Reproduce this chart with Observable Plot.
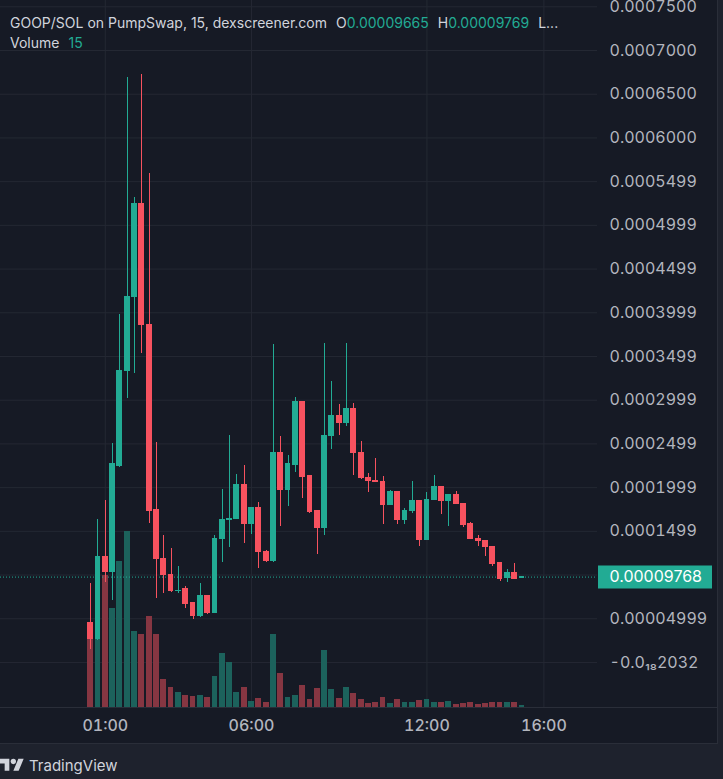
<!DOCTYPE html>
<html>
<head>
<meta charset="utf-8">
<script src="https://cdn.jsdelivr.net/npm/d3@7"></script>
<script src="https://cdn.jsdelivr.net/npm/@observablehq/plot@0.6"></script>
<style>
html,body{margin:0;padding:0;background:#1e222d;}
#wrap{position:relative;width:723px;height:779px;background:#1e222d;overflow:hidden;font-family:Inter,"Noto Sans",sans-serif;}
#chart{position:absolute;left:0;top:0;width:717px;height:743px;background:#161a25;}
#chart svg{position:absolute;left:0;top:0;}
.line{position:absolute;background:#2a2e39;}
#legend{position:absolute;left:10px;top:13px;color:#d1d4dc;font-size:14px;line-height:20px;white-space:nowrap;}
#legend .v{color:#22ab94;}
#legend .g{margin-left:9px;}
#brand{position:absolute;left:0;top:756px;height:18px;display:flex;align-items:center;color:#d1d4dc;font-size:15px;}
#brand svg{margin-right:5px;}
</style>
</head>
<body>
<div id="wrap">
  <div id="chart"></div>
  <div class="line" style="left:0;top:707px;width:717px;height:1px;"></div>
  <div class="line" style="left:717px;top:0;width:1px;height:744px;"></div>
  <div class="line" style="left:0;top:743px;width:718px;height:1px;"></div>
  <div id="legend"></div>
  <div id="brand">
    <svg width="24" height="19" viewBox="0 0 36 28"><path fill="#d1d4dc" d="M14 22H7V11H0V4h14v18zM28 22h-8l7.5-18h8L28 22z"/><circle fill="#d1d4dc" cx="20" cy="8" r="4"/></svg>
    <span>TradingView</span>
  </div>
</div>
<script>
// ---- data (15-minute candles, GOOP/SOL) ----
const startTime = "2025-01-01T00:30:00Z";
const intervalMinutes = 15;
const opens = [44.61e-6, 26.31e-6, 120.10e-6, 102.94e-6, 224.2e-6, 332.84e-6, 417.48e-6, 524.99e-6, 385.45e-6, 173.85e-6,
  117.81e-6, 99.51e-6, 81.8e-6, 83.50e-6, 67.48e-6, 52.61e-6, 75.49e-6, 56.04e-6, 140.68e-6, 163.0e-6,
  163.56e-6, 202.45e-6, 157.84e-6, 176.14e-6, 125.81e-6, 115.52e-6, 239.05e-6, 196.73e-6, 225.32e-6, 297.38e-6,
  212.74e-6, 172.71e-6, 153.27e-6, 258.49e-6, 281.37e-6, 273.36e-6, 289.37e-6, 239.05e-6, 210.45e-6, 207.6e-6,
  207.0e-6, 179.57e-6, 194.44e-6, 162.42e-6, 172.71e-6, 184.15e-6, 139.54e-6, 185.29e-6, 200.16e-6, 184.15e-6,
  191.01e-6, 180.72e-6, 157.84e-6, 140.68e-6, 138.40e-6, 131.53e-6, 113.23e-6, 96.08e-6, 101.80e-6, 96.65e-6];
const highs = [90.36e-6, 163.56e-6, 185.29e-6, 250.49e-6, 398.03e-6, 669.11e-6, 531.85e-6, 672.54e-6, 559.30e-6, 251.63e-6,
  145.26e-6, 130.39e-6, 109.80e-6, 86.93e-6, 67.5e-6, 90.36e-6, 76.63e-6, 145.26e-6, 197.87e-6, 259.64e-6,
  215.03e-6, 225.32e-6, 176.5e-6, 183.00e-6, 128.10e-6, 363.72e-6, 258.49e-6, 236.76e-6, 303.10e-6, 298.52e-6,
  212.74e-6, 172.71e-6, 364.86e-6, 321.40e-6, 295.09e-6, 364.86e-6, 296.24e-6, 252.77e-6, 216.17e-6, 233.33e-6,
  212.74e-6, 196.73e-6, 194.9e-6, 176.14e-6, 207.02e-6, 184.6e-6, 194.44e-6, 213.88e-6, 200.5e-6, 191.3e-6,
  195.58e-6, 181.0e-6, 160.13e-6, 145.26e-6, 138.7e-6, 131.8e-6, 113.5e-6, 106.37e-6, 113.23e-6, 97.69e-6];
const lows = [14.87e-6, 25.16e-6, 91.50e-6, 70.91e-6, 223.04e-6, 301.96e-6, 330.55e-6, 353.42e-6, 158.98e-6, 73.20e-6,
  78.92e-6, 80.06e-6, 78.92e-6, 61.76e-6, 49.18e-6, 52.0e-6, 54.90e-6, 55.5e-6, 114.38e-6, 131.53e-6,
  163.0e-6, 136.11e-6, 146.40e-6, 107.51e-6, 114.38e-6, 114.38e-6, 155.55e-6, 178.43e-6, 217.32e-6, 187.58e-6,
  170.42e-6, 123.53e-6, 145.26e-6, 243.62e-6, 259.64e-6, 269.93e-6, 213.88e-6, 209.31e-6, 194.44e-6, 206.9e-6,
  157.84e-6, 179.0e-6, 157.84e-6, 157.84e-6, 170.42e-6, 132.68e-6, 139.0e-6, 185.0e-6, 169.28e-6, 155.55e-6,
  180.5e-6, 154.41e-6, 140.3e-6, 132.68e-6, 121.24e-6, 109.80e-6, 92.65e-6, 91.50e-6, 94.6e-6, 96.65e-6];
const closes = [26.31e-6, 120.10e-6, 102.94e-6, 226.47e-6, 332.84e-6, 417.48e-6, 524.99e-6, 385.45e-6, 172.71e-6, 117.81e-6,
  99.51e-6, 81.21e-6, 82.3e-6, 66.34e-6, 52.61e-6, 75.49e-6, 56.04e-6, 140.68e-6, 162.42e-6, 163.6e-6,
  202.45e-6, 157.84e-6, 176.14e-6, 125.81e-6, 115.52e-6, 239.05e-6, 196.73e-6, 226.47e-6, 297.38e-6, 211.60e-6,
  171.57e-6, 153.27e-6, 258.49e-6, 281.37e-6, 273.36e-6, 289.37e-6, 239.05e-6, 210.45e-6, 207.02e-6, 207.0e-6,
  179.57e-6, 194.44e-6, 162.42e-6, 172.71e-6, 184.15e-6, 139.54e-6, 185.29e-6, 200.16e-6, 184.15e-6, 191.01e-6,
  180.72e-6, 156.70e-6, 140.68e-6, 138.40e-6, 131.53e-6, 112.09e-6, 94.93e-6, 101.80e-6, 94.93e-6, 97.68e-6];
const volumes = [738, 963, 1188, 891, 1314, 1584, 684, 657, 819, 657,
  252, 180, 135, 108, 99, 108, 90, 279, 486, 405,
  135, 180, 54, 81, 45, 657, 306, 90, 108, 198,
  72, 171, 513, 162, 81, 180, 126, 72, 36, 45,
  90, 36, 72, 45, 45, 63, 72, 45, 45, 54,
  27, 36, 45, 27, 36, 45, 45, 45, 45, 15];

// axis ticks and labels
const xTickTimes = ["2025-01-01T01:00:00Z", "2025-01-01T06:00:00Z", "2025-01-01T12:00:00Z", "2025-01-01T16:00:00Z"];
const yTicks = [0, 50e-6, 100e-6, 150e-6, 200e-6, 250e-6, 300e-6, 350e-6, 400e-6, 450e-6, 500e-6, 550e-6, 600e-6, 650e-6, 700e-6, 750e-6];
const yTickLabels = ["-0.0\u2081\u20882032", "0.00004999", "", "0.0001499", "0.0001999", "0.0002499", "0.0002999", "0.0003499",
  "0.0003999", "0.0004499", "0.0004999", "0.0005499", "0.0006000", "0.0006500", "0.0007000", "0.0007500"];

// scale domains
const xDomain = [new Date("2024-12-31T21:25:00Z"), new Date("2025-01-01T17:50:00Z")];
const yDomain = [-51.5e-6, 757.2e-6];
const volDomain = [0, 6363];

// colours
const up = "#22ab94", down = "#f7525f";
const volUp = "#1c625c", volDown = "#863642";
const gridColor = "#242833";

const t0 = new Date(startTime).getTime();
const candles = opens.map((o, i) => ({
  time: new Date(t0 + i * intervalMinutes * 60000),
  open: o, high: highs[i], low: lows[i], close: closes[i], volume: volumes[i]
}));
const xTicks = xTickTimes.map(s => new Date(s));
const last = candles[candles.length - 1];
const fmt = d3.format(".8f");
const half = 6 * 60000;
const colorOf = d => d.close >= d.open ? up : down;
const x1 = d => new Date(+d.time - half), x2 = d => new Date(+d.time + half);

const common = {width: 717, height: 743, marginLeft: 0, marginRight: 120, marginTop: 0, marginBottom: 36};
const style = {background: "transparent", color: "#b2b5be", fontFamily: "Inter, 'Noto Sans', sans-serif", fontSize: "16px", overflow: "visible"};

// layer 1: grid + axes
const base = Plot.plot({
  ...common, style,
  x: {type: "utc", domain: xDomain},
  y: {domain: yDomain},
  marks: [
    Plot.gridX(xTicks, {stroke: gridColor, strokeOpacity: 1}),
    Plot.gridY(yTicks, {stroke: gridColor, strokeOpacity: 1}),
    Plot.axisX(xTicks, {tickSize: 0, tickPadding: 12, tickFormat: d3.utcFormat("%H:%M"), label: null, fontWeight: 500}),
    Plot.axisY(yTicks, {anchor: "right", tickSize: 0, tickPadding: 12, textAnchor: "start", label: null,
      tickFormat: d => yTickLabels[yTicks.indexOf(d)]})
  ]
});

// layer 2: volume
const vol = Plot.plot({
  ...common, style,
  x: {type: "utc", domain: xDomain, axis: null},
  y: {domain: volDomain, axis: null},
  color: {type: "identity"},
  marks: [
    Plot.rect(candles, {x1, x2, y1: () => 0, y2: "volume", fill: d => d.close >= d.open ? volUp : volDown, shapeRendering: "crispEdges"})
  ]
});

// layer 3: candles + last price
const price = Plot.plot({
  ...common, style,
  x: {type: "utc", domain: xDomain, axis: null},
  y: {domain: yDomain, axis: null},
  color: {type: "identity"},
  marks: [
    Plot.ruleY([last.close], {stroke: up, strokeDasharray: "1,2", strokeWidth: 1}),
    Plot.ruleX(candles, {x: "time", y1: "low", y2: "high", stroke: colorOf, strokeWidth: 1, shapeRendering: "crispEdges"}),
    Plot.rect(candles, {x1, x2, y1: "open", y2: "close", fill: colorOf, insetTop: -0.5, insetBottom: -0.5, shapeRendering: "crispEdges"}),
    Plot.ruleY([last.close], {insetLeft: 598, insetRight: -115, stroke: up, strokeWidth: 23}),
    Plot.text([last.close], {y: d => d, text: d => fmt(d), frameAnchor: "right", dx: 12, textAnchor: "start", fill: "#ffffff", fontSize: 16})
  ]
});

const chart = document.getElementById("chart");
chart.append(base, vol, price);

document.getElementById("legend").innerHTML =
  `GOOP/SOL on PumpSwap, 15, dexscreener.com<span class="g">O</span><span class="v">${fmt(last.open)}</span>` +
  `<span class="g">H</span><span class="v">${fmt(last.high)}</span><span class="g">L...</span><br>` +
  `Volume<span class="g v">${last.volume}</span>`;
</script>
</body>
</html>
